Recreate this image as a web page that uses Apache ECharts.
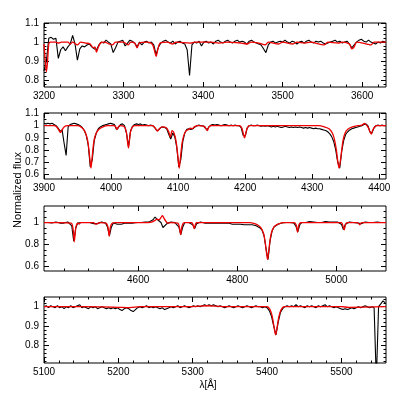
<!DOCTYPE html>
<html><head><meta charset="utf-8">
<script src="https://cdn.jsdelivr.net/npm/echarts@6/dist/echarts.min.js"></script>
<style>html,body{margin:0;padding:0;background:#fff}#c{width:407px;height:407px}</style>
</head><body><div id="c"></div>
<script>
// ---------- Observed spectrum (black), uniform wavelength grid per panel ----------
const obs1Start = 3200, obs1Step = 3;
const obs1Flux = [
 /*3200*/ 0.85,0.90,1.02,1.025,1.015,1.02,0.915,0.96,0.975,0.955,
 /*3230*/ 0.975,0.99,1.035,0.99,0.905,0.965,0.98,0.975,0.985,0.99,
 /*3260*/ 0.975,0.965,0.96,0.985,1.0,0.995,1.01,1.0,0.99,0.945,
 /*3290*/ 0.97,1.0,1.005,1.01,0.98,0.995,1.01,1.005,0.995,0.975,
 /*3320*/ 1.0,0.985,1.0,1.005,0.995,1.0,0.985,0.935,0.975,0.995,
 /*3350*/ 1.005,1.01,1.0,0.995,1.005,0.99,1.0,1.005,0.995,0.99,
 /*3380*/ 0.96,0.825,0.985,1.0,0.995,1.005,0.98,1.0,1.005,0.995,
 /*3410*/ 1.0,0.99,1.005,1.01,1.0,0.995,1.005,1.01,1.0,0.995,
 /*3440*/ 1.005,1.01,1.0,1.005,1.0,0.99,1.005,1.01,1.0,0.995,
 /*3470*/ 0.99,0.985,0.965,0.945,0.985,1.0,1.005,0.995,1.0,1.005,
 /*3500*/ 1.0,1.01,1.0,0.995,1.005,1.0,0.99,1.0,1.005,0.995,
 /*3530*/ 1.005,1.01,1.0,0.995,1.005,1.0,1.005,0.995,0.99,0.995,
 /*3560*/ 1.0,1.005,1.01,1.0,1.005,0.995,1.0,1.005,0.99,0.97,
 /*3590*/ 0.985,1.0,1.01,1.015,1.005,1.0,1.01,1.0,0.995,0.99,
 /*3620*/ 1.0,0.995,1.005,1.0
];
const obs2Start = 3900, obs2Step = 3;
const obs2Flux = [
 /*3900*/ 1.02,1.015,1.02,1.015,1.02,1.01,1.0,0.98,0.955,0.965,
 /*3930*/ 0.855,0.755,0.99,1.01,1.015,1.02,1.015,1.01,1.0,0.985,
 /*3960*/ 0.96,0.92,0.84,0.66,0.72,0.88,0.94,0.975,0.99,1.0,
 /*3990*/ 1.005,1.01,1.015,1.02,1.015,1.01,0.97,0.985,1.01,1.015,
 /*4020*/ 1.0,0.94,0.83,0.955,0.995,1.01,1.015,1.01,1.015,1.005,
 /*4050*/ 1.01,1.005,1.0,1.005,1.0,0.985,0.96,0.965,0.985,0.99,
 /*4080*/ 0.985,0.975,0.93,0.89,0.94,0.91,0.82,0.66,0.72,0.87,
 /*4110*/ 0.94,0.97,0.975,0.97,0.975,0.99,1.0,1.005,1.0,1.0,
 /*4140*/ 0.985,0.965,0.99,1.005,1.01,1.005,1.01,1.005,1.0,1.005,
 /*4170*/ 1.01,1.005,1.0,1.005,1.0,1.005,1.0,1.0,0.985,0.92,
 /*4200*/ 0.915,0.98,1.0,1.005,1.0,1.0,1.005,1.0,0.995,1.0,
 /*4230*/ 0.995,1.0,0.995,0.99,0.995,0.99,0.995,0.99,0.985,0.99,
 /*4260*/ 0.995,0.99,0.985,0.99,0.985,0.99,0.985,0.99,0.985,0.98,
 /*4290*/ 0.985,0.98,0.985,0.98,0.975,0.98,0.975,0.975,0.97,0.965,
 /*4320*/ 0.96,0.95,0.935,0.91,0.87,0.8,0.7,0.65,0.79,0.88,
 /*4350*/ 0.93,0.95,0.965,0.975,0.98,0.985,0.99,0.995,1.0,1.01,
 /*4380*/ 1.015,1.0,0.95,0.94,0.98,1.0,1.005,1.0,1.005,1.0,
 /*4410*/ 1.0
];
const obs3Start = 4410, obs3Step = 4;
const obs3Flux = [
 /*4410*/ 1.0,0.995,1.0,1.0,0.995,1.0,1.005,1.0,0.995,1.0,
 /*4450*/ 0.995,1.0,1.005,1.0,0.97,0.83,0.95,0.995,0.985,1.0,
 /*4490*/ 1.005,1.0,1.005,1.0,0.995,0.99,0.985,0.99,1.0,1.005,
 /*4530*/ 1.0,0.995,0.96,0.88,0.96,0.995,0.99,0.985,0.99,0.985,
 /*4570*/ 0.99,0.995,0.99,0.995,1.0,0.995,1.0,1.0,0.995,1.0,
 /*4610*/ 1.0,1.005,1.0,1.005,1.01,1.025,1.05,1.03,1.04,1.0,
 /*4650*/ 0.955,0.97,0.99,1.0,1.005,1.0,1.0,0.995,0.96,0.89,
 /*4690*/ 0.96,1.0,1.005,1.0,1.0,0.98,0.945,0.99,1.0,1.005,
 /*4730*/ 1.0,0.995,1.0,0.995,1.0,0.995,1.0,0.995,0.99,0.995,
 /*4770*/ 0.99,0.995,0.99,0.995,0.99,0.985,0.99,0.985,0.99,0.985,
 /*4810*/ 0.985,0.98,0.985,0.98,0.985,0.98,0.975,0.97,0.965,0.95,
 /*4850*/ 0.93,0.88,0.76,0.665,0.83,0.92,0.96,0.975,0.985,0.99,
 /*4890*/ 0.995,1.0,1.0,1.005,1.0,1.0,0.995,0.97,0.915,0.98,
 /*4930*/ 1.0,1.005,1.0,1.005,1.01,1.0,1.005,1.01,1.0,1.005,
 /*4970*/ 1.0,1.005,1.01,1.0,1.005,1.0,1.005,1.0,1.005,1.0,
 /*5010*/ 0.985,0.935,0.985,1.0,1.005,1.0,1.0,1.005,0.995,0.98,
 /*5050*/ 0.99,1.0,1.005,1.0,1.0,1.005,1.0,1.0,1.005,1.0,
 /*5090*/ 1.0,1.005,1.0
];
const obs4Start = 5100, obs4Step = 3;
const obs4Flux = [
 /*5100*/ 1.0,1.005,0.995,1.005,1.0,0.995,1.005,0.995,1.0,0.99,
 /*5130*/ 1.0,0.995,1.005,0.995,1.0,1.005,1.01,0.995,1.0,0.995,
 /*5160*/ 0.99,1.0,0.995,1.0,0.99,0.995,1.0,0.995,0.99,0.995,
 /*5190*/ 0.99,0.995,0.99,0.995,0.985,0.98,0.99,0.995,0.99,0.98,
 /*5220*/ 0.975,0.985,0.995,1.0,0.995,1.0,1.005,0.995,1.0,0.995,
 /*5250*/ 1.0,0.995,0.99,0.995,0.985,0.99,0.995,1.0,0.995,1.0,
 /*5280*/ 1.005,0.995,1.0,1.005,1.0,0.995,1.0,1.005,1.0,1.005,
 /*5310*/ 1.0,1.005,1.01,1.005,1.01,1.005,1.01,1.005,1.0,1.005,
 /*5340*/ 1.0,0.995,1.0,1.005,1.0,0.995,1.0,1.005,1.0,0.995,
 /*5370*/ 1.0,1.005,1.0,0.995,1.0,1.005,1.0,1.0,0.995,1.0,
 /*5400*/ 0.995,0.98,0.95,0.9,0.855,0.92,0.97,0.99,1.0,1.005,
 /*5430*/ 1.0,1.005,1.0,1.01,1.0,1.005,1.0,0.995,1.005,1.0,
 /*5460*/ 1.005,1.0,0.995,1.005,1.0,1.005,1.01,1.0,1.005,1.0,
 /*5490*/ 0.995,1.0,0.995,0.99,0.985,0.99,0.985,0.99,0.995,0.99,
 /*5520*/ 0.995,1.0,0.995,1.0,1.005,1.0,0.995,1.0,0.995,0.62,
 /*5550*/ 1.0,1.015,1.03,1.02
];

// ---------- Model spectrum (red), [wavelength, flux] ----------
const model1 = [[3200,0.99],[3202,0.88],[3203,0.845],[3204.5,0.9],[3206,0.99],[3208,1.0],[3215,1.0],[3218,0.995],[3222,1.0],
 [3230,1.0],[3233,0.99],[3236,1.0],[3242,0.985],[3246,1.0],[3252,0.995],[3258,0.99],[3262,0.97],[3264,0.975],[3266,0.948],
 [3268,0.97],[3271,0.995],[3276,1.0],[3282,0.99],[3286,0.985],[3290,1.0],[3300,1.0],[3306,0.985],[3309,1.0],[3314,0.995],
 [3317,0.97],[3320,0.995],[3330,1.0],[3336,0.99],[3339,0.955],[3341,0.925],[3343,0.96],[3346,0.995],[3355,1.0],[3362,0.99],
 [3366,1.0],[3384,0.995],[3390,1.0],[3410,1.0],[3420,0.995],[3430,1.0],[3448,0.995],[3456,0.99],[3460,1.0],[3470,0.995],
 [3478,0.985],[3482,1.0],[3495,0.99],[3500,1.0],[3513,0.99],[3518,1.0],[3528,0.995],[3535,1.0],[3552,0.985],[3557,1.0],
 [3570,0.995],[3575,1.0],[3584,0.99],[3587,0.965],[3590,0.975],[3593,1.0],[3606,0.99],[3611,0.985],[3615,1.0],[3630,1.0]];
const model2 = [[3900,1.0],[3915,1.0],[3919,0.99],[3922,0.965],[3924.5,0.945],[3927,0.965],[3930,0.99],[3935,1.0],[3950,1.0],
 [3955,0.99],[3959,0.97],[3962,0.94],[3965,0.88],[3967,0.8],[3968.5,0.72],[3970,0.65],[3971.5,0.72],[3973,0.81],[3975,0.89],
 [3978,0.94],[3982,0.97],[3988,0.99],[3995,1.0],[4005,1.0],[4007,0.99],[4009,0.97],[4011,0.99],[4013,1.0],[4020,0.99],
 [4023,0.94],[4024.5,0.87],[4026,0.815],[4027.5,0.88],[4029,0.95],[4032,0.99],[4035,1.0],[4062,1.0],[4066,0.98],[4069,0.955],
 [4072,0.975],[4076,0.99],[4082,0.985],[4086,0.95],[4088.5,0.905],[4091,0.96],[4093,0.95],[4095,0.92],[4097,0.87],[4099,0.78],
 [4100.5,0.7],[4101.7,0.65],[4103,0.71],[4104.5,0.79],[4106,0.86],[4108.5,0.92],[4112,0.96],[4116,0.97],[4118,0.98],
 [4121,0.975],[4124,0.99],[4130,1.0],[4139,0.995],[4141.5,0.975],[4143.5,0.96],[4146,0.99],[4150,1.0],[4192,1.0],[4195,0.98],
 [4197,0.94],[4199,0.9],[4201,0.94],[4203,0.98],[4206,1.0],[4310,1.0],[4318,0.99],[4325,0.975],[4330,0.94],[4333,0.89],
 [4336,0.8],[4338,0.71],[4340,0.65],[4342,0.71],[4344,0.8],[4346,0.88],[4349,0.94],[4353,0.97],[4360,0.99],[4368,1.0],
 [4374,1.005],[4378,1.02],[4381,1.005],[4384,0.98],[4386,0.95],[4388,0.93],[4390,0.96],[4393,0.99],[4397,1.0],[4410,1.0]];
const model3 = [[4410,1.0],[4440,1.0],[4465,0.995],[4468,0.96],[4470,0.88],[4471,0.825],[4472.5,0.88],[4474.5,0.96],[4478,0.995],
 [4481,0.985],[4484,1.0],[4510,1.0],[4514,0.985],[4518,0.99],[4522,1.0],[4535,0.995],[4539,0.96],[4541.5,0.875],[4544,0.96],
 [4548,0.995],[4555,1.0],[4620,1.0],[4628,1.005],[4634,1.02],[4638,1.03],[4642,1.025],[4646,1.045],[4649,1.063],[4652,1.04],
 [4656,1.01],[4660,0.995],[4666,1.0],[4680,0.995],[4683,0.96],[4685.7,0.89],[4688,0.96],[4691,0.995],[4695,1.0],[4708,1.0],
 [4711,0.975],[4713,0.945],[4715,0.975],[4718,1.0],[4825,1.0],[4835,0.99],[4842,0.975],[4848,0.95],[4853,0.9],[4856,0.83],
 [4858.5,0.74],[4861,0.665],[4863.5,0.74],[4866,0.84],[4869,0.91],[4874,0.96],[4882,0.985],[4892,1.0],[4915,1.0],[4919,0.975],
 [4921.5,0.91],[4924,0.975],[4928,1.0],[5010,1.0],[5013,0.97],[5015.7,0.934],[5018,0.975],[5021,1.0],[5043,1.0],[5047,0.98],
 [5051,1.0],[5100,1.0]];
const model4 = [[5100,1.0],[5150,1.0],[5200,0.997],[5215,0.995],[5230,1.0],[5300,1.0],[5320,1.005],[5340,1.0],[5400,1.0],
 [5404,0.985],[5407,0.95],[5409,0.905],[5411.5,0.855],[5414,0.905],[5416,0.95],[5419,0.985],[5423,1.0],[5500,1.0],
 [5510,0.997],[5560,1.0]];

// ---------- Axis ranges and tick labels ----------
const xRanges = [[3200,3630],[3900,4410],[4410,5100],[5100,5560]];
const yRanges = [[0.765,1.1],[0.56,1.105],[0.56,1.15],[0.71,1.05]];
const xLabels = [[3200,3300,3400,3500,3600],[3900,4000,4100,4200,4300,4400],[4600,4800,5000],[5100,5200,5300,5400,5500]];
const xMinorStep = [20,25,50,20];
const yLabels = [[0.8,0.9,1,1.1],[0.6,0.7,0.8,0.9,1,1.1],[0.6,0.8,1],[0.8,0.9,1]];
const yMinorStep = [0.02,0.05,0.05,0.02];
const xTitle = 'λ[Å]';
const yTitle = 'Normalized flux';

function range(a,b,s){const r=[];const n=Math.round((b-a)/s);for(let i=0;i<=n;i++)r.push(+(a+i*s).toFixed(4));return r;}
function obsPairs(start,step,flux){return flux.map((f,i)=>[start+i*step,f]);}

const grids=[{top:23,height:64},{top:113,height:66},{top:206,height:65},{top:297,height:66}];
const FONT='Liberation Sans';
const fmt=v=>String(+(+v).toFixed(2));

const option={animation:false,backgroundColor:'#fff',grid:[],xAxis:[],yAxis:[],series:[],
 graphic:[
  {type:'text',x:18,y:190,rotation:Math.PI/2,style:{text:yTitle,font:'11px "Liberation Sans"',fill:'#000',align:'center',verticalAlign:'middle'}},
  {type:'text',x:208,y:385,style:{text:xTitle,font:'10px "Liberation Sans"',fill:'#000',align:'center',verticalAlign:'middle'}}
 ]};

const obsSets=[obsPairs(obs1Start,obs1Step,obs1Flux),obsPairs(obs2Start,obs2Step,obs2Flux),obsPairs(obs3Start,obs3Step,obs3Flux),obsPairs(obs4Start,obs4Step,obs4Flux)];
const modSets=[model1,model2,model3,model4];

for(let p=0;p<4;p++){
 option.grid.push({left:44,right:21,top:grids[p].top,height:grids[p].height,show:true,borderColor:'#000',borderWidth:1,backgroundColor:'transparent'});
 const [x0,x1]=xRanges[p],[y0,y1]=yRanges[p];
 const xMaj = p===2 ? xLabels[p] : range(Math.ceil(x0/100)*100,x1,100);
 const xMin = range(Math.ceil(x0/xMinorStep[p])*xMinorStep[p],x1,xMinorStep[p]).filter(v=>v>x0&&v<x1&&!xMaj.includes(v));
 const yMaj = yLabels[p];
 const yMin = range(Math.ceil(y0/yMinorStep[p]-1e-6)*yMinorStep[p],y1,yMinorStep[p]).filter(v=>v>y0&&v<y1&&!yMaj.some(m=>Math.abs(m-v)<1e-6));
 const base=(pos,ticks,len,labels)=>({gridIndex:p,type:'value',min:x0,max:x1,position:pos,axisLine:{show:false,onZero:false},splitLine:{show:false},
   axisTick:{show:true,inside:true,length:len,customValues:ticks,lineStyle:{color:'#000',width:1}},
   axisLabel:labels?{show:true,customValues:labels,fontSize:10,fontFamily:FONT,color:'#000',margin:4,showMinLabel:true,showMaxLabel:true,formatter:v=>String(v)}:{show:false}});
 const xi=option.xAxis.length;
 option.xAxis.push(base('bottom',xMaj,5,xLabels[p]),base('bottom',xMin,2.5,null),base('top',xMaj,5,null),base('top',xMin,2.5,null));
 const ybase=(pos,ticks,len,labels)=>({gridIndex:p,type:'value',min:y0,max:y1,position:pos,axisLine:{show:false,onZero:false},splitLine:{show:false},
   axisTick:{show:true,inside:true,length:len,customValues:ticks,lineStyle:{color:'#000',width:1}},
   axisLabel:labels?{show:true,customValues:labels,fontSize:10,fontFamily:FONT,color:'#000',margin:5,showMinLabel:true,showMaxLabel:true,formatter:fmt}:{show:false}});
 const yi=option.yAxis.length;
 option.yAxis.push(ybase('left',yMaj,5,yLabels[p]),ybase('left',yMin,2.5,null),ybase('right',yMaj,5,null),ybase('right',yMin,2.5,null));
 option.series.push({type:'line',xAxisIndex:xi,yAxisIndex:yi,data:obsSets[p],symbol:'none',clip:true,lineStyle:{color:'#000',width:1.1},z:2});
 option.series.push({type:'line',xAxisIndex:xi,yAxisIndex:yi,data:modSets[p],symbol:'none',clip:true,smooth:0.3,lineStyle:{color:'#ee0000',width:1.3},z:3});
}
const chart=echarts.init(document.getElementById('c'),null,{renderer:'canvas'});
chart.setOption(option);
</script></body></html>
